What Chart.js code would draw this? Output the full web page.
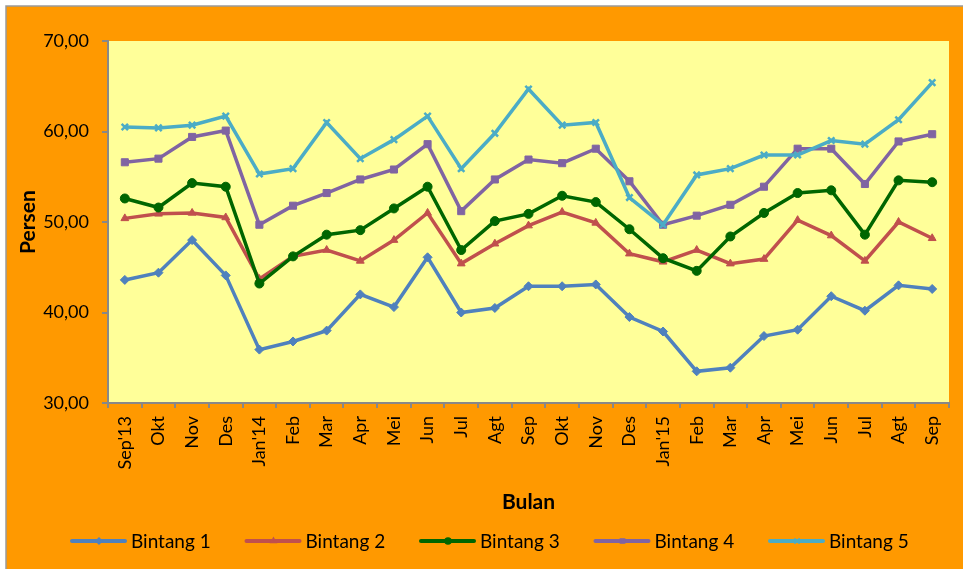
<!DOCTYPE html>
<html>
<head>
<meta charset="utf-8">
<script src="https://cdn.jsdelivr.net/npm/chart.js@4"></script>
<style>
  html, body { margin: 0; padding: 0; background: #fff; }
  #wrap { width: 963px; height: 569px; position: relative; }
</style>
</head>
<body>
<div id="wrap"><canvas id="chart" width="963" height="569"></canvas></div>
<script>
const bulan = ["Sep'13", "Okt", "Nov", "Des", "Jan'14", "Feb", "Mar", "Apr", "Mei", "Jun", "Jul", "Agt",
  "Sep", "Okt", "Nov", "Des", "Jan'15", "Feb", "Mar", "Apr", "Mei", "Jun", "Jul", "Agt", "Sep"];

const bintang1 = [43.6, 44.4, 48.0, 44.1, 35.9, 36.8, 38.0, 42.0, 40.6, 46.1, 40.0, 40.5, 42.9,
  42.9, 43.1, 39.5, 37.9, 33.5, 33.9, 37.4, 38.1, 41.8, 40.2, 43.0, 42.6];
const bintang2 = [50.4, 50.9, 51.0, 50.5, 43.7, 46.2, 46.9, 45.7, 48.0, 51.0, 45.4, 47.6, 49.6,
  51.1, 49.9, 46.5, 45.6, 46.9, 45.4, 45.9, 50.2, 48.5, 45.7, 50.0, 48.2];
const bintang3 = [52.6, 51.6, 54.3, 53.9, 43.2, 46.2, 48.6, 49.1, 51.5, 53.9, 46.9, 50.1, 50.9,
  52.9, 52.2, 49.2, 46.0, 44.6, 48.4, 51.0, 53.2, 53.5, 48.6, 54.6, 54.4];
const bintang4 = [56.6, 57.0, 59.4, 60.1, 49.7, 51.8, 53.2, 54.7, 55.8, 58.6, 51.2, 54.7, 56.9,
  56.5, 58.1, 54.5, 49.7, 50.7, 51.9, 53.9, 58.1, 58.1, 54.2, 58.9, 59.7];
const bintang5 = [60.5, 60.4, 60.7, 61.7, 55.3, 55.9, 61.0, 57.0, 59.1, 61.7, 55.9, 59.8, 64.7,
  60.7, 61.0, 52.7, 49.7, 55.2, 55.9, 57.4, 57.4, 59.0, 58.6, 61.3, 65.4];

const seriesNames = ["Bintang 1", "Bintang 2", "Bintang 3", "Bintang 4", "Bintang 5"];
const seriesData = [bintang1, bintang2, bintang3, bintang4, bintang5];
const colors = ["#4F81BD", "#C0504D", "#006600", "#8064A2", "#4BACC6"];
const markers = ["rectRot", "triangle", "circle", "rect", "crossRot"];
const markerSize = [4.5, 4.5, 4.5, 5, 4.5];

const FONT = 'Lato, "Liberation Sans", sans-serif';
const AXIS_GREY = "#888888";

// orange frame + pale yellow plot area
const backdrop = {
  id: "backdrop",
  beforeDraw(chart) {
    const { ctx, chartArea: a } = chart;
    ctx.save();
    ctx.fillStyle = "#ffffff";
    ctx.fillRect(0, 0, chart.width, chart.height);
    ctx.fillStyle = "#FF9900";
    ctx.fillRect(6, 6, chart.width - 6, chart.height - 6);
    ctx.strokeStyle = "#9a9a9a";
    ctx.lineWidth = 1.5;
    ctx.beginPath();
    ctx.moveTo(6, chart.height);
    ctx.lineTo(6, 6);
    ctx.lineTo(chart.width, 6);
    ctx.stroke();
    ctx.fillStyle = "#FFFF99";
    ctx.fillRect(a.left, a.top, a.right - a.left, a.bottom - a.top);
    ctx.restore();
  },
};

// legend row: line sample with marker, then the series name
const lineLegend = {
  id: "lineLegend",
  afterDraw(chart) {
    const { ctx } = chart;
    const y = 541;
    ctx.save();
    chart.data.datasets.forEach((ds, i) => {
      const x0 = 72 + 174.5 * i;
      ctx.strokeStyle = ds.borderColor;
      ctx.lineWidth = 4;
      ctx.lineCap = "round";
      ctx.beginPath();
      ctx.moveTo(x0, y);
      ctx.lineTo(x0 + 53, y);
      ctx.stroke();
      ctx.fillStyle = ds.borderColor;
      ctx.strokeStyle = ds.borderColor;
      ctx.lineWidth = 1.5;
      Chart.helpers.drawPoint(ctx, { pointStyle: ds.pointStyle, radius: 3, rotation: 0, borderWidth: 1.5 }, x0 + 27, y);
      ctx.fillStyle = "#000";
      ctx.font = `19px ${FONT}`;
      ctx.textBaseline = "middle";
      ctx.textAlign = "left";
      ctx.fillText(ds.label, x0 + 59, y + 1);
    });
    ctx.restore();
  },
};

const datasets = seriesNames.map((name, i) => ({
  label: name,
  data: seriesData[i],
  borderColor: colors[i],
  backgroundColor: colors[i],
  pointBackgroundColor: colors[i],
  pointBorderColor: colors[i],
  pointStyle: markers[i],
  pointRadius: markerSize[i],
  pointBorderWidth: markers[i] === "crossRot" ? 2.5 : 1,
  borderWidth: 3.5,
  tension: 0,
  order: 5 - i,
}));

new Chart(document.getElementById("chart"), {
  type: "line",
  data: { labels: bulan, datasets },
  plugins: [backdrop, lineLegend],
  options: {
    responsive: false,
    animation: false,
    layout: { padding: { top: 41, right: 14, bottom: 49, left: 0 } },
    plugins: { legend: { display: false }, tooltip: { enabled: false } },
    scales: {
      x: {
        offset: true,
        afterFit: (scale) => { scale.height = 117; },
        grid: {
          offset: true,
          drawOnChartArea: false,
          drawTicks: true,
          tickLength: 5,
          color: AXIS_GREY,
          lineWidth: 2,
        },
        border: { display: true, color: AXIS_GREY, width: 2 },
        ticks: {
          autoSkip: false,
          minRotation: 90,
          maxRotation: 90,
          padding: 8,
          color: "#000",
          font: { family: FONT, size: 18 },
        },
        title: {
          display: true,
          text: "Bulan",
          color: "#000",
          font: { family: FONT, size: 21, weight: "bold" },
          padding: { top: 0, bottom: 5 },
        },
      },
      y: {
        min: 30,
        max: 70,
        afterFit: (scale) => { scale.width = 108; },
        grid: {
          drawOnChartArea: false,
          drawTicks: true,
          tickLength: 6,
          color: AXIS_GREY,
          lineWidth: 2,
        },
        border: { display: true, color: AXIS_GREY, width: 2 },
        ticks: {
          stepSize: 10,
          padding: 13,
          color: "#000",
          font: { family: FONT, size: 18 },
          callback: (v) => Number(v).toFixed(2).replace(".", ","),
        },
        title: {
          display: true,
          text: "Persen",
          color: "#000",
          font: { family: FONT, size: 21, weight: "bold" },
          padding: { top: 16, bottom: 0 },
        },
      },
    },
  },
});
</script>
</body>
</html>
